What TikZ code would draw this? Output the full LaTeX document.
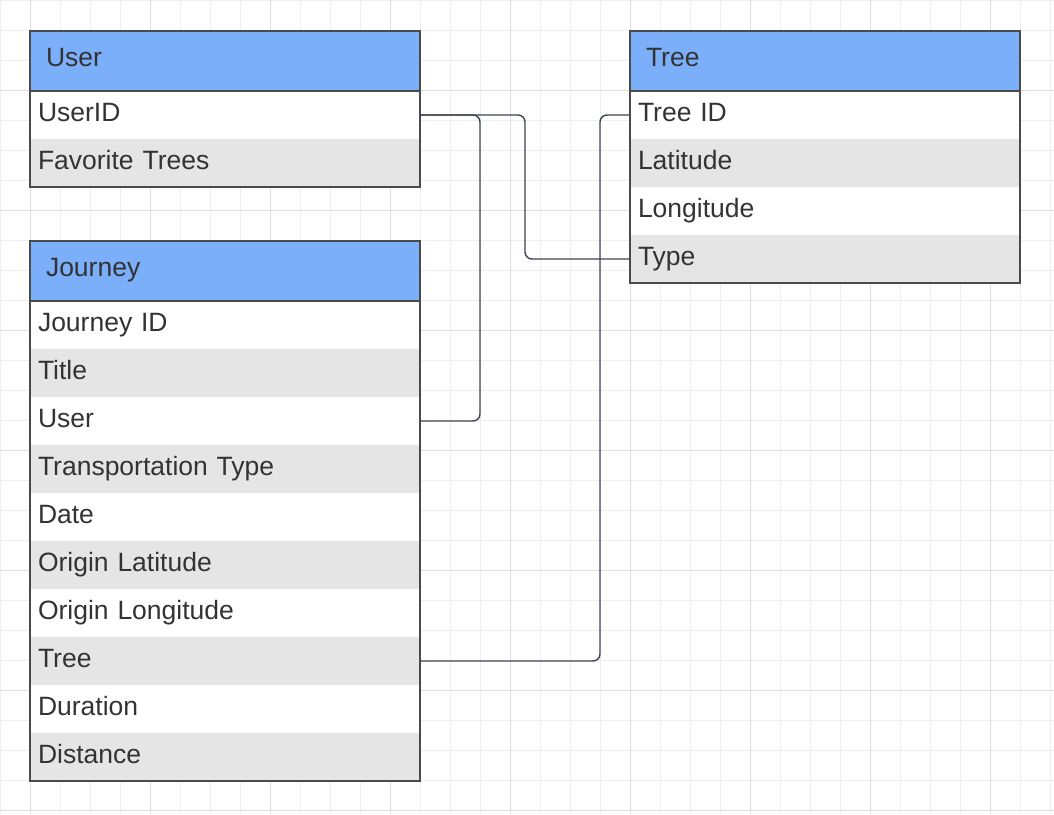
\documentclass[tikz,border=0pt]{standalone}
\usepackage{fontspec}
\setmainfont{Liberation Sans}
\usetikzlibrary{positioning}

\definecolor{azul}{HTML}{7BAFFA}
\definecolor{gris}{HTML}{E5E5E5}
\definecolor{borde}{HTML}{4A4A4A}
\definecolor{texto}{HTML}{333333}
\definecolor{linea}{HTML}{3D4350}
\definecolor{rejilla}{HTML}{EEEEEE}
\definecolor{rejillaf}{HTML}{DEDEDE}

\begin{document}
\begin{tikzpicture}[x=1pt, y=-1pt,
        letra/.style={text=texto, align=left, outer sep=0pt, font=\fontsize{26.5}{30}\selectfont},
        cabecera/.style={letra, fill=azul, text width=358pt, inner xsep=16pt, inner ysep=10pt, text height=25pt, text depth=15pt},
        fila/.style={letra, fill=white, text width=374pt, inner xsep=8pt, inner ysep=10pt, text height=20pt, text depth=8pt},
        filagris/.style={fila, fill=gris},
        marco/.style={draw=borde, line width=2pt},
        conector/.style={draw=linea, line width=1.4pt, rounded corners=7pt}]
    \useasboundingbox (0,0) rectangle (1054,814);

    % Rejilla
    \foreach \x in {0,30,...,1050} \draw[rejilla, line width=1pt] (\x,0) -- (\x,814);
    \foreach \y in {0,30,...,810} \draw[rejilla, line width=1pt] (0,\y) -- (1054,\y);
    \foreach \x in {30,150,...,990} \draw[rejillaf, line width=1pt] (\x,0) -- (\x,814);
    \foreach \y in {90,210,...,810} \draw[rejillaf, line width=1pt] (0,\y) -- (1054,\y);

    % Tabla User
    \node[cabecera, anchor=north west] (user) at (30,31) {User};
    \node[fila, below=0pt of user] (userid) {UserID};
    \node[filagris, below=0pt of userid] (favtrees) {Favorite Trees};
    \draw[marco] (user.north west) rectangle (favtrees.south east);
    \draw[marco] (user.south west) -- (user.south east);

    % Tabla Journey
    \node[cabecera, anchor=north west] (journey) at (30,241) {Journey};
    \node[fila, below=0pt of journey] (jid) {Journey ID};
    \node[filagris, below=0pt of jid] (jtitle) {Title};
    \node[fila, below=0pt of jtitle] (juser) {User};
    \node[filagris, below=0pt of juser] (jtransp) {Transportation Type};
    \node[fila, below=0pt of jtransp] (jdate) {Date};
    \node[filagris, below=0pt of jdate] (jolat) {Origin Latitude};
    \node[fila, below=0pt of jolat] (jolon) {Origin Longitude};
    \node[filagris, below=0pt of jolon] (jtree) {Tree};
    \node[fila, below=0pt of jtree] (jdur) {Duration};
    \node[filagris, below=0pt of jdur] (jdist) {Distance};
    \draw[marco] (journey.north west) rectangle (jdist.south east);
    \draw[marco] (journey.south west) -- (journey.south east);

    % Tabla Tree
    \node[cabecera, anchor=north west] (tree) at (630,31) {Tree};
    \node[fila, below=0pt of tree] (treeid) {Tree ID};
    \node[filagris, below=0pt of treeid] (tlat) {Latitude};
    \node[fila, below=0pt of tlat] (tlon) {Longitude};
    \node[filagris, below=0pt of tlon] (ttype) {Type};
    \draw[marco] (tree.north west) rectangle (ttype.south east);
    \draw[marco] (tree.south west) -- (tree.south east);

    % Relaciones
    \draw[conector] (userid.east) -- ++(60,0) |- (juser.east);
    \draw[conector] (userid.east) -- ++(105,0) |- (ttype.west);
    \draw[conector] (treeid.west) -- ++(-30,0) |- (jtree.east);

\end{tikzpicture}
\end{document}
